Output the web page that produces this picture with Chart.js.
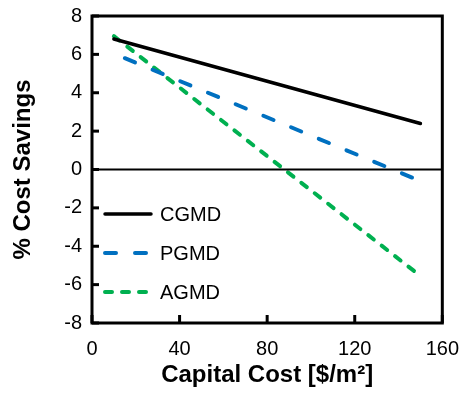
<!DOCTYPE html>
<html>
<head>
<meta charset="utf-8">
<script src="https://cdn.jsdelivr.net/npm/chart.js@4/dist/chart.umd.min.js"></script>
<style>
html,body{margin:0;padding:0;background:#fff;}
#wrap{width:460px;height:399px;}
</style>
</head>
<body>
<div id="wrap"><canvas id="c" width="460" height="399"></canvas></div>
<script>
const seriesNames = ['CGMD', 'PGMD', 'AGMD'];
const cgmdX = [10, 150];
const cgmdY = [6.8, 2.4];
const pgmdX = [15, 150];
const pgmdY = [5.8, -0.6];
const agmdX = [10, 150];
const agmdY = [6.95, -5.55];
const xTicks = [0, 40, 80, 120, 160];
const yTicks = [-8, -6, -4, -2, 0, 2, 4, 6, 8];

function pts(xs, ys) { return xs.map((x, i) => ({x: x, y: ys[i]})); }

const FONT = "Liberation Sans, Arial, sans-serif";

const framePlugin = {
  id: 'frame',
  afterDatasetsDraw(chart) {
    const {ctx, chartArea: a, scales: {x, y}} = chart;
    ctx.save();
    const y0 = y.getPixelForValue(0);
    ctx.strokeStyle = '#000';
    ctx.lineWidth = 2;
    ctx.beginPath(); ctx.moveTo(a.left, y0); ctx.lineTo(a.right, y0); ctx.stroke();
    ctx.lineWidth = 3;
    ctx.lineCap = 'butt';
    yTicks.forEach(v => {
      const py = y.getPixelForValue(v);
      ctx.beginPath(); ctx.moveTo(a.left, py); ctx.lineTo(a.left + 7, py); ctx.stroke();
    });
    xTicks.forEach(v => {
      const px = x.getPixelForValue(v);
      ctx.beginPath(); ctx.moveTo(px, a.bottom); ctx.lineTo(px, a.bottom - 8); ctx.stroke();
    });
    ctx.lineWidth = 3;
    ctx.strokeRect(a.left, a.top, a.right - a.left, a.bottom - a.top);
    const legY = [214, 253, 292];
    chart.data.datasets.forEach((ds, i) => {
      ctx.save();
      ctx.strokeStyle = ds.borderColor;
      ctx.lineWidth = ds.borderWidth;
      ctx.lineCap = ds.borderCapStyle || 'butt';
      ctx.setLineDash(ds.borderDash || []);
      ctx.beginPath(); ctx.moveTo(105, legY[i]); ctx.lineTo(151, legY[i]); ctx.stroke();
      ctx.restore();
      ctx.fillStyle = '#000';
      ctx.font = '20px ' + FONT;
      ctx.textBaseline = 'middle';
      ctx.textAlign = 'left';
      ctx.fillText(ds.label, 160, legY[i] + 1);
    });
    ctx.restore();
  }
};

new Chart(document.getElementById('c'), {
  type: 'line',
  data: {
    datasets: [
      {label: seriesNames[0], data: pts(cgmdX, cgmdY), borderColor: '#000000', borderWidth: 3.5, borderCapStyle: 'round', pointRadius: 0, fill: false},
      {label: seriesNames[1], data: pts(pgmdX, pgmdY), borderColor: '#0070C0', borderWidth: 4, borderDash: [11, 19], borderCapStyle: 'round', pointRadius: 0, fill: false},
      {label: seriesNames[2], data: pts(agmdX, agmdY), borderColor: '#00B050', borderWidth: 4, borderDash: [7, 10], borderCapStyle: 'round', pointRadius: 0, fill: false}
    ]
  },
  options: {
    responsive: false,
    animation: false,
    layout: {padding: {left: 0, right: 17, top: 16, bottom: 0}},
    plugins: {legend: {display: false}, tooltip: {enabled: false}},
    scales: {
      x: {
        type: 'linear', min: 0, max: 160,
        afterBuildTicks(s) { s.ticks = xTicks.map(v => ({value: v})); },
        afterFit(s) { s.height = 76; },
        grid: {display: true, drawOnChartArea: false, drawTicks: true, tickLength: 13, tickColor: 'rgba(0,0,0,0)'},
        border: {display: false},
        ticks: {color: '#000', font: {family: FONT, size: 20}, padding: 1, maxRotation: 0},
        title: {display: true, text: 'Capital Cost [$/m\u00B2]', color: '#000', font: {family: FONT, size: 24, weight: 'bold'}, padding: {top: 0, bottom: 9}}
      },
      y: {
        type: 'linear', min: -8, max: 8,
        afterBuildTicks(s) { s.ticks = yTicks.map(v => ({value: v})); },
        afterFit(s) { s.width = 92; },
        grid: {display: true, drawOnChartArea: false, drawTicks: true, tickLength: 9, tickColor: 'rgba(0,0,0,0)'},
        border: {display: false},
        ticks: {color: '#000', font: {family: FONT, size: 20}, padding: 1},
        title: {display: true, text: '% Cost Savings', color: '#000', font: {family: FONT, size: 24, weight: 'bold'}, padding: {top: 9, bottom: 0}}
      }
    }
  },
  plugins: [framePlugin]
});
</script>
</body>
</html>
